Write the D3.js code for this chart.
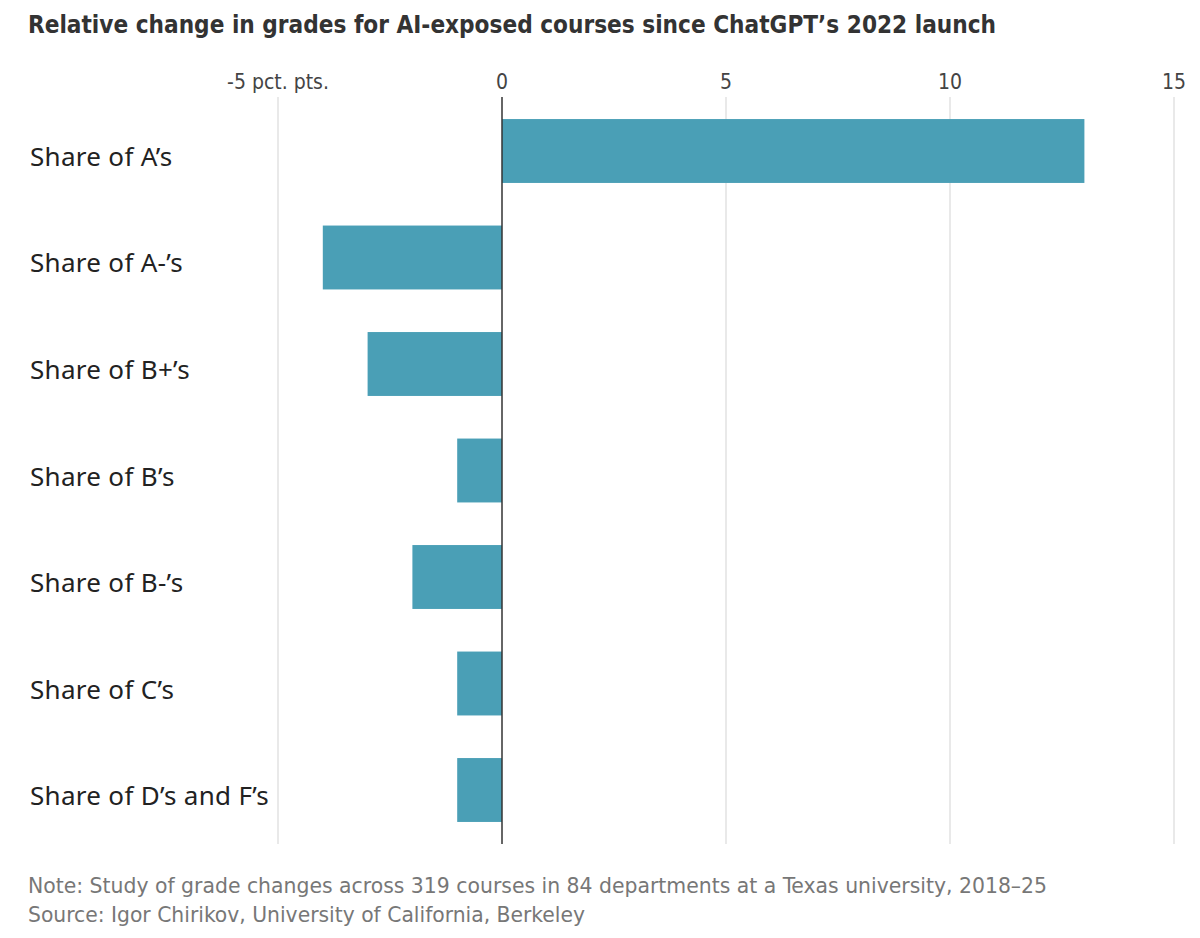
<!DOCTYPE html>
<html>
<head>
<meta charset="utf-8">
<script src="https://cdn.jsdelivr.net/npm/d3@7"></script>
<style>
  body { margin: 0; background: #fff; }
  svg text { font-family: "Liberation Sans Narrow", "DejaVu Sans Condensed", "Roboto", sans-serif; }
</style>
</head>
<body>
<div id="chart"></div>
<script>
// Data
const categories = ['Share of A\u2019s', 'Share of A-\u2019s', 'Share of B+\u2019s', 'Share of B\u2019s',
  'Share of B-\u2019s', 'Share of C\u2019s', 'Share of D\u2019s and F\u2019s'];
const values = [13, -4, -3, -1, -2, -1, -1];
const tickValues = [-5, 0, 5, 10, 15];
const tickLabels = ['-5 pct. pts.', '0', '5', '10', '15'];

const title = 'Relative change in grades for AI-exposed courses since ChatGPT\u2019s 2022 launch';
const note = 'Note: Study of grade changes across 319 courses in 84 departments at a Texas university, 2018\u201325';
const source = 'Source: Igor Chirikov, University of California, Berkeley';

const W = 1200, H = 938;
const BAR = '#4a9fb6';

const svg = d3.select('#chart').append('svg')
  .attr('width', W).attr('height', H);

const x = d3.scaleLinear().domain([-5, 15]).range([278, 1174]);
const y = d3.scaleBand().domain(categories).range([97, 844])
  .paddingInner(0.4).paddingOuter(0.207);

// title
svg.append('text')
  .attr('x', 28).attr('y', 33)
  .attr('font-size', 25).attr('font-weight', 700)
  .attr('fill', '#333')
  .attr('textLength', 968).attr('lengthAdjust', 'spacingAndGlyphs')
  .text(title);

// gridlines
svg.append('g').selectAll('line')
  .data(tickValues.filter(d => d !== 0))
  .join('line')
  .attr('x1', d => x(d)).attr('x2', d => x(d))
  .attr('y1', 97).attr('y2', 844)
  .attr('stroke', '#e2e2e2').attr('stroke-width', 1.5);

// tick labels
svg.append('g').selectAll('text')
  .data(tickValues)
  .join('text')
  .attr('x', d => x(d)).attr('y', 89)
  .attr('text-anchor', 'middle')
  .attr('font-size', 21).attr('fill', '#444')
  .text((d, i) => tickLabels[i]);

// bars
svg.append('g').selectAll('rect')
  .data(values)
  .join('rect')
  .attr('x', d => x(Math.min(0, d)))
  .attr('width', d => Math.abs(x(d) - x(0)))
  .attr('y', (d, i) => y(categories[i]))
  .attr('height', y.bandwidth())
  .attr('fill', BAR);

// zero line
svg.append('line')
  .attr('x1', x(0)).attr('x2', x(0))
  .attr('y1', 97).attr('y2', 844)
  .attr('stroke', '#333').attr('stroke-width', 1.5);

// category labels
svg.append('g').selectAll('text')
  .data(categories)
  .join('text')
  .attr('x', 30)
  .attr('y', d => y(d) + y.bandwidth() / 2 + 15)
  .attr('font-size', 26)
  .attr('letter-spacing', 0.3)
  .attr('fill', '#222')
  .style('font-family', '"Noto Sans", sans-serif')
  .text(d => d);

// footnotes
svg.append('text')
  .attr('x', 28).attr('y', 893)
  .attr('font-size', 22).attr('fill', '#777')
  .attr('textLength', 1019).attr('lengthAdjust', 'spacingAndGlyphs')
  .text(note);
svg.append('text')
  .attr('x', 28).attr('y', 922)
  .attr('font-size', 22).attr('fill', '#777')
  .attr('textLength', 557).attr('lengthAdjust', 'spacingAndGlyphs')
  .text(source);
</script>
</body>
</html>
